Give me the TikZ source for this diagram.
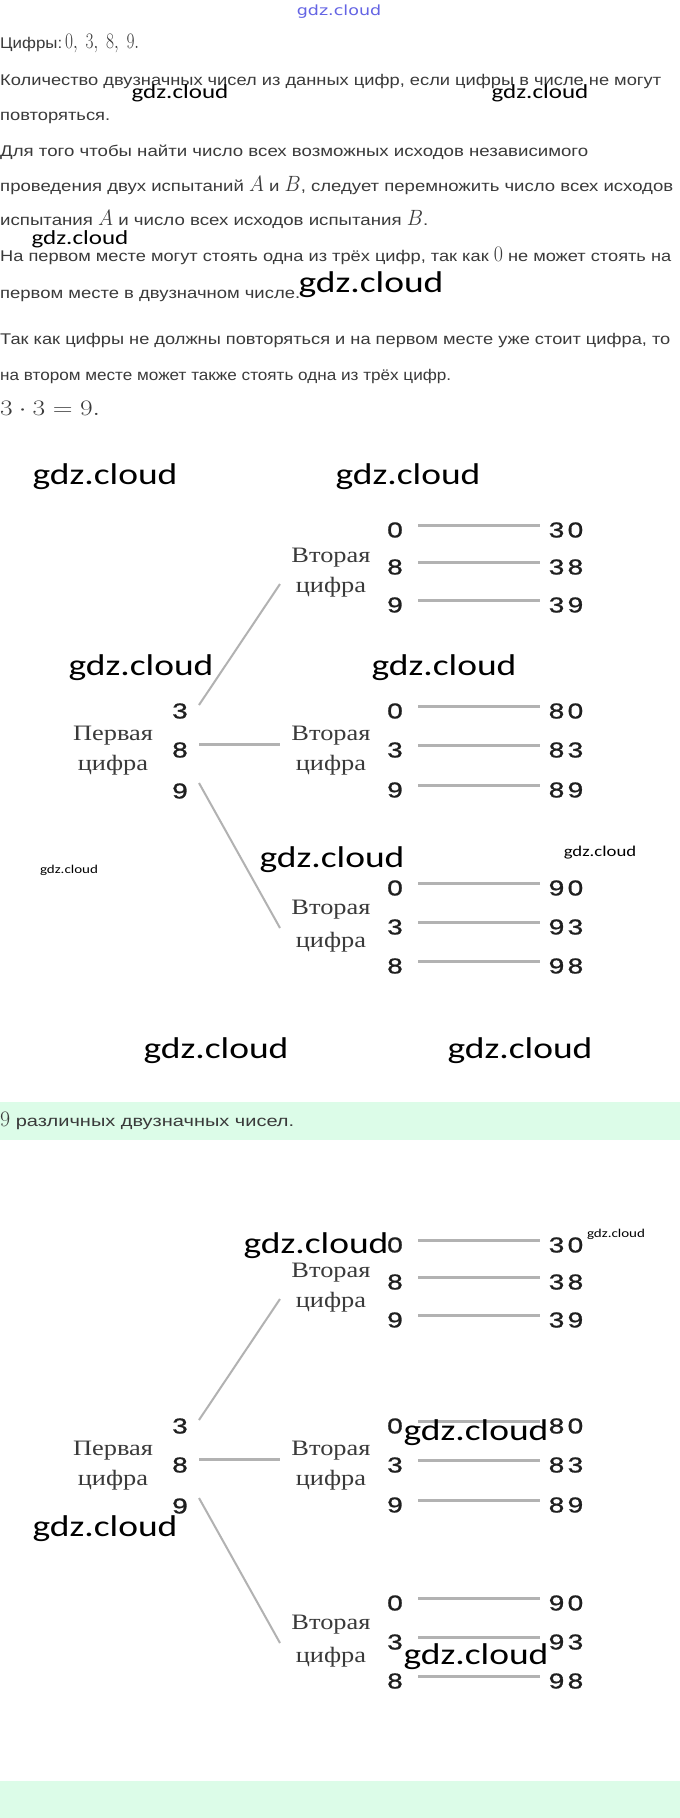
\RequirePackage{fix-cm}
\documentclass[tikz,border=0pt]{standalone}
\usepackage[no-math]{fontspec}
\setmainfont{Liberation Sans}
\newfontfamily\wmfont{Carlito}
\newfontfamily\cyrserif{Liberation Serif}
\newfontfamily\bluefont{DejaVu Sans}
\newfontfamily\digfont{Liberation Sans}[FakeBold=1]
\usepackage{graphicx}
\definecolor{mint}{RGB}{220,252,232}
\definecolor{bodygray}{RGB}{58,58,58}
\definecolor{linegray}{RGB}{178,178,178}
\definecolor{wmblue}{RGB}{100,100,228}
\newcommand\bodysize{\fontsize{15.5}{15.5}\selectfont}
\newcommand\fitw[2]{\resizebox{#1pt}{\height}{#2}}
\newcommand\mth[1]{\scalebox{1}[1.3]{\fontsize{17}{17}\selectfont$#1$}}
\newcommand\hx[1]{\scalebox{1.3}[1]{#1}}
\newcommand\sx[1]{\scalebox{1.2}[1]{#1}}
\newcommand\wx[1]{\scalebox{1.25}[1]{#1}}
\tikzset{
  body/.style={anchor=base west, inner sep=0pt, text=bodygray, font=\bodysize},
  wmark/.style={inner sep=0pt, text=black, font=\wmfont\fontsize{#1}{#1}\selectfont},
  digit/.style={inner sep=0pt, text=black!88, font=\digfont\fontsize{21.5}{21.5}\selectfont},
  cyrlabel/.style={inner sep=0pt, text=bodygray, font=\cyrserif\fontsize{22}{22}\selectfont},
  hline/.style={draw=linegray, line width=3pt},
  bline/.style={draw=linegray, line width=2pt},
  band/.style={fill=mint, draw=none}
}
\newcommand\drawtree[2]{%
\begin{scope}[yshift=-#2pt]
  \node[cyrlabel] (#1p1) at (113,736) {\sx{Первая}};
  \node[cyrlabel] (#1p2) at (113,765) {\sx{цифра}};
  \node[digit] (#1f3) at (180,711) {\hx{3}};
  \node[digit] (#1f8) at (180,750) {\hx{8}};
  \node[digit] (#1f9) at (180,791) {\hx{9}};
  \node[cyrlabel] (#1v1) at (331,558) {\sx{Вторая}};
  \node[cyrlabel] (#1c1) at (331,587) {\sx{цифра}};
  \node[cyrlabel] (#1v2) at (331,736) {\sx{Вторая}};
  \node[cyrlabel] (#1c2) at (331,765) {\sx{цифра}};
  \node[cyrlabel] (#1v3) at (331,910) {\sx{Вторая}};
  \node[cyrlabel] (#1c3) at (331,942) {\sx{цифра}};
  \coordinate (#1e1) at (280,584);
  \coordinate (#1e2) at (280,744);
  \coordinate (#1e3) at (280,928);
  \draw[bline] ([xshift=19pt,yshift=6pt]#1f3.center) -- (#1e1);
  \draw[hline] ([xshift=19pt,yshift=6pt]#1f8.center) -- (#1e2);
  \draw[bline] ([xshift=19pt,yshift=8pt]#1f9.center) -- (#1e3);
  \foreach \dg/\ra/\rb/\yy/\kk in {0/3/0/530/1, 8/3/8/567/2, 9/3/9/605/3, 0/8/0/711/4, 3/8/3/750/5, 9/8/9/790/6, 0/9/0/888/7, 3/9/3/927/8, 8/9/8/966/9}{
    \node[digit] (#1d\kk) at (395,\yy) {\hx{\dg}};
    \node[digit] (#1r\kk) at (566,\yy) {\hx{\ra\hspace{2.6pt}\rb}};
    \draw[hline, shorten <=23pt, shorten >=26pt] ([yshift=5pt]#1d\kk.center) -- ([yshift=5pt]#1r\kk.center);
  }
\end{scope}}
\begin{document}
\begin{tikzpicture}[x=1pt, y=-1pt]
  \useasboundingbox (0,0) rectangle (680,1818);
  \fill[white] (0,0) rectangle (680,1818);
  \fill[band] (0,1102) rectangle (680,1140);
  \fill[band] (0,1781) rectangle (680,1818);
  % body text
  \node[body] (t1) at (0,48) {\fitw{62}{Цифры:}\hspace{3pt}\fitw{74}{\mth{0,\ 3,\ 8,\ 9.}}};
  \node[body] (t2) at (0,85) {\fitw{661}{Количество двузначных чисел из данных цифр, если цифры в числе не могут}};
  \node[body] (t3) at (0,120) {\fitw{110}{повторяться.}};
  \node[body] (t4) at (0,156) {\fitw{588}{Для того чтобы найти число всех возможных исходов независимого}};
  \node[body] (t5) at (0,191) {\fitw{673}{проведения двух испытаний \mth{A} и \mth{B}, следует перемножить число всех исходов}};
  \node[body] (t6) at (0,225) {\fitw{428}{испытания \mth{A} и число всех исходов испытания \mth{B}.}};
  \node[body] (t7) at (0,261) {\fitw{671}{На первом месте могут стоять одна из трёх цифр, так как \mth{0} не может стоять на}};
  \node[body] (t8) at (0,298) {\fitw{300}{первом месте в двузначном числе.}};
  \node[body] (t9) at (0,344) {\fitw{670}{Так как цифры не должны повторяться и на первом месте уже стоит цифра, то}};
  \node[body] (t10) at (0,380) {\fitw{451}{на втором месте может также стоять одна из трёх цифр.}};
  \node[body] (t11) at (0,415) {\fitw{100}{\mth{3\cdot 3=9.}}};
  \node[body] (t12) at (0,1126) {\fitw{294}{\mth{9} различных двузначных чисел.}};
  % trees
  \drawtree{a}{0}
  \drawtree{b}{715}
  % watermarks
  \node[inner sep=0pt, text=wmblue, font=\bluefont\fontsize{14}{14}\selectfont] (w0) at (339,12) {\wx{gdz.cloud}};
  \node[wmark=20] (w1) at (180,93) {\wx{gdz.cloud}};
  \node[wmark=20] (w2) at (540,93) {\wx{gdz.cloud}};
  \node[wmark=20] (w3) at (80,239) {\wx{gdz.cloud}};
  \node[wmark=30] (w4) at (371,285) {\wx{gdz.cloud}};
  \node[wmark=30] (w5) at (105,477) {\wx{gdz.cloud}};
  \node[wmark=30] (w6) at (408,477) {\wx{gdz.cloud}};
  \node[wmark=30] (w7) at (141,668) {\wx{gdz.cloud}};
  \node[wmark=30] (w8) at (444,668) {\wx{gdz.cloud}};
  \node[wmark=12] (w9) at (69,870) {\wx{gdz.cloud}};
  \node[wmark=30] (w10) at (332,860) {\wx{gdz.cloud}};
  \node[wmark=15] (w11) at (600,853) {\wx{gdz.cloud}};
  \node[wmark=30] (w12) at (216,1051) {\wx{gdz.cloud}};
  \node[wmark=30] (w13) at (520,1051) {\wx{gdz.cloud}};
  \node[wmark=30] (w14) at (316,1246) {\wx{gdz.cloud}};
  \node[wmark=12] (w15) at (616,1234) {\wx{gdz.cloud}};
  \node[wmark=30] (w16) at (476,1433) {\wx{gdz.cloud}};
  \node[wmark=30] (w17) at (105,1529) {\wx{gdz.cloud}};
  \node[wmark=30] (w18) at (476,1657) {\wx{gdz.cloud}};
\end{tikzpicture}
\end{document}
